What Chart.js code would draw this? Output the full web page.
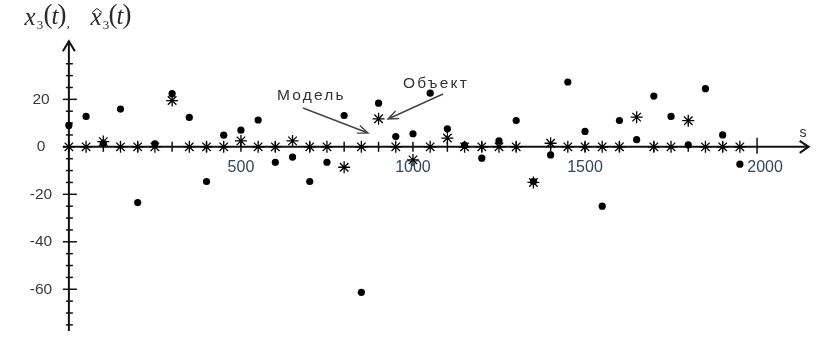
<!DOCTYPE html>
<html>
<head>
<meta charset="utf-8">
<script src="https://cdn.jsdelivr.net/npm/chart.js@4.4.0/dist/chart.umd.min.js"></script>
<style>
  html, body { margin: 0; padding: 0; background: #fff; }
  #wrap { width: 829px; height: 346px; }
</style>
</head>
<body>
<div id="wrap"><canvas id="chart" width="829" height="346"></canvas></div>
<script>
// Моменты времени (ось s)
const times = [0, 50, 100, 150, 200, 250, 300, 350, 400, 450,
               500, 550, 600, 650, 700, 750, 800, 850, 900, 950,
               1000, 1050, 1100, 1150, 1200, 1250, 1300, 1350, 1400, 1450,
               1500, 1550, 1600, 1650, 1700, 1750, 1800, 1850, 1900, 1950];

// Объект (точки)
const objectValues = [9, 12.8, 1.5, 15.9, -23.5, 1.3, 22.4, 12.4, -14.6, 4.9,
                      7, 11.3, -6.5, -4.3, -14.6, -6.5, 13.2, -61.3, 18.4, 4.3,
                      5.5, 22.6, 7.6, 0.7, -4.8, 2.5, 11.1, -14.6, -3.4, 27.3,
                      6.5, -25, 11.1, 3, 21.4, 12.8, 0.8, 24.5, 5, -7.3];

// Модель (звёздочки)
const modelValues = [0, 0, 2.2, 0, 0, 0, 19.5, 0, 0, 0,
                     2.5, 0, 0, 2.5, 0, 0, -8.6, 0, 11.8, 0,
                     -5.5, 0, 3.7, 0, 0, 0, 0, -15, 1.5, 0,
                     0, 0, 0, 12.5, 0, 0, 11, 0, 0, 0];

// Подписи осей
const xTickLabels = [500, 1000, 1500, 2000];
const yTickLabels = [20, 0, -20, -40, -60];

const toPoints = vals => times.map((t, i) => ({ x: t, y: vals[i] }));

function arrow(ctx, x1, y1, x2, y2) {
    const a = Math.atan2(y2 - y1, x2 - x1);
    const len = 11, spread = 0.38;
    ctx.beginPath();
    ctx.moveTo(x1, y1);
    ctx.lineTo(x2, y2);
    ctx.moveTo(x2 - len * Math.cos(a - spread), y2 - len * Math.sin(a - spread));
    ctx.lineTo(x2, y2);
    ctx.lineTo(x2 - len * Math.cos(a + spread), y2 - len * Math.sin(a + spread));
    ctx.stroke();
}

// Оси со стрелками, засечки и подписи
const axesPlugin = {
    id: 'axes',
    beforeDatasetsDraw(chart) {
        const ctx = chart.ctx;
        const xs = chart.scales.x, ys = chart.scales.y;
        const x0 = xs.getPixelForValue(0);
        const y0 = ys.getPixelForValue(0);
        ctx.save();
        ctx.strokeStyle = '#111';
        ctx.lineWidth = 2;

        // ось Y
        const yTop = ys.getPixelForValue(44.5);
        const yBot = ys.getPixelForValue(-77.6);
        ctx.beginPath();
        ctx.moveTo(x0, yBot);
        ctx.lineTo(x0, yTop);
        ctx.stroke();
        ctx.beginPath();
        ctx.moveTo(x0 - 6, yTop + 10);
        ctx.lineTo(x0, yTop);
        ctx.lineTo(x0 + 6, yTop + 10);
        ctx.stroke();

        // ось X
        const xRight = xs.getPixelForValue(2150);
        ctx.beginPath();
        ctx.moveTo(x0 - 6, y0);
        ctx.lineTo(xRight, y0);
        ctx.stroke();
        ctx.beginPath();
        ctx.moveTo(xRight - 9, y0 - 6);
        ctx.lineTo(xRight, y0);
        ctx.lineTo(xRight - 9, y0 + 6);
        ctx.stroke();

        // засечки
        ctx.lineWidth = 1.5;
        for (let v = -75; v <= 35; v += 5) {
            if (v === 0) continue;
            const py = ys.getPixelForValue(v);
            const major = yTickLabels.includes(v);
            ctx.beginPath();
            ctx.moveTo(x0 - (major ? 6 : 3), py);
            ctx.lineTo(x0 + (major ? 8 : 4), py);
            ctx.stroke();
        }
        for (let t = 100; t <= 2000; t += 100) {
            const px = xs.getPixelForValue(t);
            ctx.beginPath();
            ctx.moveTo(px, y0 - (t === 2000 ? 9 : 5));
            ctx.lineTo(px, y0 + (t === 2000 ? 7 : 5));
            ctx.stroke();
        }

        // подписи
        ctx.textBaseline = 'middle';
        ctx.textAlign = 'center';
        ctx.fillStyle = '#3a3a3a';
        ctx.font = '15.5px "Liberation Sans", Arial, sans-serif';
        yTickLabels.forEach(v => {
            ctx.fillText(String(v), 41, ys.getPixelForValue(v));
        });
        ctx.fillStyle = '#34465a';
        ctx.font = '16px "Liberation Sans", Arial, sans-serif';
        xTickLabels.forEach(v => {
            const shift = v === 2000 ? 8 : 0;
            ctx.fillText(String(v), xs.getPixelForValue(v) + shift, y0 + 21);
        });
        ctx.fillStyle = '#333';
        ctx.font = '14px "Liberation Sans", Arial, sans-serif';
        ctx.fillText('s', 803, 133);

        // пояснения
        ctx.font = '15.5px "Liberation Sans", Arial, sans-serif';
        ctx.letterSpacing = '2.2px';
        ctx.textAlign = 'left';
        ctx.fillStyle = '#333';
        ctx.fillText('Модель', 277, 96);
        ctx.fillText('Объект', 403, 84);
        ctx.letterSpacing = '0px';
        ctx.strokeStyle = '#444';
        ctx.lineWidth = 1.4;
        arrow(ctx, 303, 108, 368, 133);
        arrow(ctx, 443, 94, 388, 119);

        // заголовок оси Y
        ctx.fillStyle = '#2a2a2a';
        ctx.textAlign = 'center';
        ctx.textBaseline = 'alphabetic';
        const it = 'italic 25px "Liberation Serif", "Times New Roman", serif';
        const rm = '27px "Liberation Serif", "Times New Roman", serif';
        const sub = '13px "Liberation Serif", "Times New Roman", serif';
        ctx.font = it; ctx.fillText('x', 30, 25);
        ctx.font = sub; ctx.fillText('3', 40, 29);
        ctx.font = rm; ctx.fillText('(', 48, 23);
        ctx.font = it; ctx.fillText('t', 55, 24);
        ctx.font = rm; ctx.fillText(')', 62, 23);
        ctx.font = sub; ctx.fillText(',', 68, 27);
        ctx.font = it; ctx.fillText('x', 96, 25);
        ctx.font = sub; ctx.fillText('3', 106, 29);
        ctx.font = rm; ctx.fillText('(', 113, 23);
        ctx.font = it; ctx.fillText('t', 120, 24);
        ctx.font = rm; ctx.fillText(')', 127, 23);
        // крышка над x
        ctx.strokeStyle = '#2a2a2a';
        ctx.lineWidth = 1;
        ctx.beginPath();
        ctx.moveTo(92, 12.5);
        ctx.lineTo(97, 8.5);
        ctx.lineTo(102, 12.5);
        ctx.stroke();
        ctx.restore();
    }
};

const chart = new Chart(document.getElementById('chart').getContext('2d'), {
    type: 'scatter',
    data: {
        datasets: [{
            label: 'Модель',
            data: toPoints(modelValues),
            pointStyle: 'star',
            pointRadius: 6,
            borderColor: '#000',
            backgroundColor: '#000',
            borderWidth: 1.3,
            clip: false
        }, {
            label: 'Объект',
            data: toPoints(objectValues),
            pointStyle: 'circle',
            pointRadius: 3.6,
            borderWidth: 0,
            backgroundColor: '#000',
            clip: false
        }]
    },
    options: {
        responsive: false,
        devicePixelRatio: 1,
        animation: false,
        events: [],
        layout: { padding: { left: 62, right: 10, top: 40, bottom: 14 } },
        plugins: {
            legend: { display: false },
            tooltip: { enabled: false }
        },
        scales: {
            x: { type: 'linear', min: -20, max: 2180, display: false },
            y: { type: 'linear', min: -78, max: 45, display: false }
        }
    },
    plugins: [axesPlugin]
});
</script>
</body>
</html>
